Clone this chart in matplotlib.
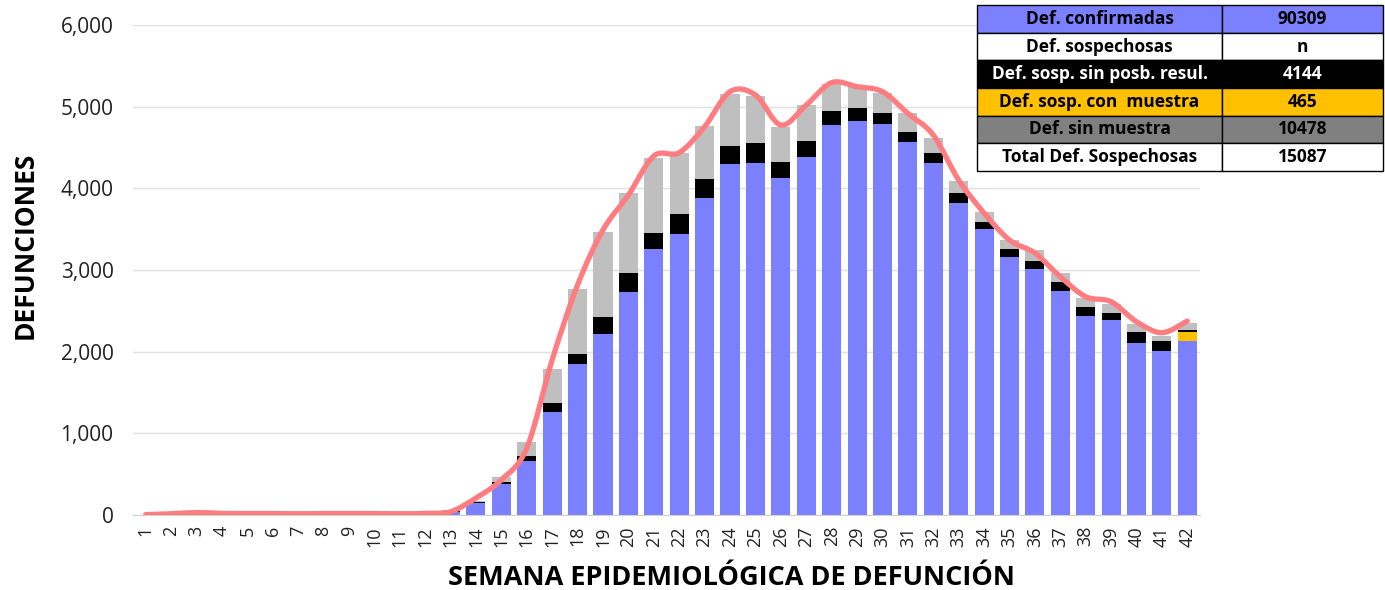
import matplotlib
matplotlib.use("Agg")
import matplotlib.pyplot as plt
from matplotlib.path import Path
from matplotlib.patches import PathPatch
from matplotlib.ticker import FuncFormatter
import numpy as np

plt.rcParams['font.family'] = ['Open Sans', 'DejaVu Sans']

weeks = list(range(1, 43))
confirmadas = [5, 12, 25, 16, 15, 15, 12, 15, 15, 15, 12, 16, 40, 147, 380, 661, 1257, 1845, 2212, 2730,
               3253, 3441, 3878, 4294, 4314, 4126, 4379, 4771, 4828, 4788, 4567, 4306, 3816, 3498, 3155,
               3012, 2743, 2437, 2384, 2110, 2008, 2130]
con_muestra = [0] * 41 + [107]
sin_posb = [0, 0, 0, 0, 0, 0, 0, 0, 0, 0, 0, 1, 5, 13, 20, 65, 110, 126, 208, 233,
            196, 241, 236, 228, 237, 196, 200, 172, 155, 134, 127, 123, 123, 94, 102,
            102, 106, 106, 85, 127, 122, 28]
sin_muestra = [0, 2, 4, 3, 2, 2, 2, 2, 2, 2, 2, 3, 15, 10, 65, 168, 417, 796, 1049, 976,
               918, 755, 653, 633, 584, 433, 441, 334, 257, 241, 224, 191, 154, 122, 110,
               131, 110, 110, 115, 102, 62, 90]
linea = [5, 15, 30, 20, 18, 18, 15, 18, 18, 18, 15, 20, 40, 208, 430, 820, 1900, 2816, 3490, 3918,
         4396, 4437, 4755, 5184, 5143, 4775, 5020, 5294, 5245, 5184, 4918, 4653, 4102, 3698, 3367,
         3208, 2918, 2673, 2612, 2367, 2232, 2375]

tabla_labels = ["Def. confirmadas", "Def. sospechosas", "Def. sosp. sin posb. resul.",
                "Def. sosp. con  muestra", "Def. sin muestra", "Total Def. Sospechosas"]
tabla_vals = ["90309", "n", "4144", "465", "10478", "15087"]

c_blue = '#7B80FF'
c_black = '#000000'
c_yellow = '#FFC000'
c_gray = '#BFBFBF'
c_red = '#FF7C80'

fig = plt.figure(figsize=(13.85, 5.90), dpi=100)
ax = fig.add_axes([133 / 1385, 1 - 515 / 590, (1200 - 133) / 1385, 490 / 590])

x = np.array(weeks)
w = 0.75
b1 = np.array(confirmadas)
b2 = b1 + np.array(con_muestra)
b3 = b2 + np.array(sin_posb)
ax.bar(x, confirmadas, w, color=c_blue, zorder=2)
ax.bar(x, con_muestra, w, bottom=b1, color=c_yellow, zorder=2)
ax.bar(x, sin_posb, w, bottom=b2, color=c_black, zorder=2)
ax.bar(x, sin_muestra, w, bottom=b3, color=c_gray, zorder=2)

# smoothed line (Catmull-Rom -> cubic Bezier)
P = np.column_stack([x, np.array(linea, dtype=float)])
verts = [tuple(P[0])]
codes = [Path.MOVETO]
n = len(P)
for i in range(n - 1):
    p0 = P[i - 1] if i > 0 else P[i]
    p1 = P[i]
    p2 = P[i + 1]
    p3 = P[i + 2] if i + 2 < n else P[i + 1]
    c1 = p1 + (p2 - p0) / 6.0
    c2 = p2 - (p3 - p1) / 6.0
    verts += [tuple(c1), tuple(c2), tuple(p2)]
    codes += [Path.CURVE4] * 3
ax.add_patch(PathPatch(Path(verts, codes), facecolor='none', edgecolor=c_red, lw=3.8,
                       capstyle='round', joinstyle='round', zorder=3))

ax.set_xlim(0.5, 42.5)
ax.set_ylim(0, 6000)
ax.set_yticks(range(0, 6001, 1000))
ax.yaxis.set_major_formatter(FuncFormatter(lambda v, p: f"{int(v):,}"))
ax.set_xticks(x)
ax.set_xticklabels([str(v) for v in weeks], rotation=90, fontsize=13, color='#222222')
ax.tick_params(axis='y', labelsize=15, colors='#222222', length=0, pad=14)
ax.tick_params(axis='x', length=0, pad=8)
ax.grid(axis='y', color='#E0E0E0', lw=1, zorder=0)
for s in ['top', 'right', 'left']:
    ax.spines[s].set_visible(False)
ax.spines['bottom'].set_color('#D0D0D0')

fig.text(25 / 1385, 1 - 245 / 590, "DEFUNCIONES", rotation=90, fontsize=19, fontweight='bold',
         ha='center', va='center')
fig.text(732 / 1385, 1 - 578 / 590, "SEMANA EPIDEMIOLÓGICA DE DEFUNCIÓN", fontsize=19.5,
         fontweight='bold', ha='center', va='center')

# table
tax = fig.add_axes([977 / 1385, 1 - 171 / 590, (1383 - 977) / 1385, 166 / 590])
tax.axis('off')
cells = [[l, v] for l, v in zip(tabla_labels, tabla_vals)]
tbl = tax.table(cellText=cells, bbox=[0, 0, 1, 1], colWidths=[245, 161], cellLoc='center')
tbl.auto_set_font_size(False)
row_bg = [c_blue, '#FFFFFF', '#000000', c_yellow, '#808080', '#FFFFFF']
row_fg = ['#000000', '#000000', '#FFFFFF', '#000000', '#000000', '#000000']
for (r, c), cell in tbl.get_celld().items():
    cell.set_facecolor(row_bg[r])
    cell.set_edgecolor('#000000')
    cell.set_linewidth(1.0)
    t = cell.get_text()
    t.set_color(row_fg[r])
    t.set_fontweight('bold')
    t.set_fontsize(12.5)

fig.savefig("out.png", dpi=100)
